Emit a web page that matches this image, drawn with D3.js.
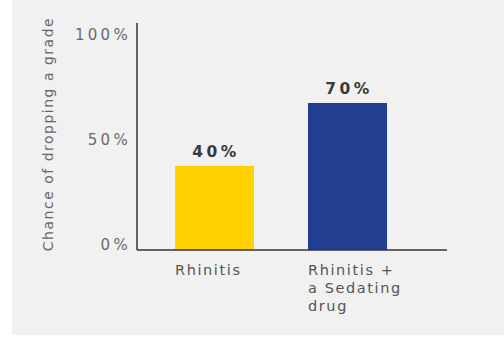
<!DOCTYPE html>
<html>
<head>
<meta charset="utf-8">
<script src="https://cdn.jsdelivr.net/npm/d3@7"></script>
<style>
  html, body { margin: 0; padding: 0; background: #ffffff; }
  svg { display: block; }
  text { font-family: "DejaVu Sans", sans-serif; }
</style>
</head>
<body>
<div id="chart-container"></div>
<script>
// chart data
const categories = ['Rhinitis', 'Rhinitis + a Sedating drug'];
const categoryLines = [['Rhinitis'], ['Rhinitis +', 'a Sedating', 'drug']];
const values = [40, 70];
const barColors = ['#ffd200', '#213e90'];
const tickValues = [0, 50, 100];
const yTitle = 'Chance of dropping a grade';

const width = 504;
const height = 337;

const svg = d3.select('#chart-container').append('svg')
  .attr('width', width)
  .attr('height', height);

// light grey panel
svg.append('rect')
  .attr('x', 12).attr('y', 0)
  .attr('width', width - 12).attr('height', 335)
  .attr('fill', '#f1f1f1');

const x = d3.scaleBand()
  .domain(categories)
  .range([161.7, 400.3])
  .paddingInner(0.406)
  .paddingOuter(0.1);

const y = d3.scaleLinear()
  .domain([0, 100])
  .range([250, 40]);

// bars
svg.append('g').selectAll('rect')
  .data(values).enter()
  .append('rect')
  .attr('x', (d, i) => x(categories[i]))
  .attr('y', d => y(d))
  .attr('width', x.bandwidth())
  .attr('height', d => y(0) - y(d))
  .attr('fill', (d, i) => barColors[i]);

// value labels
svg.append('g').selectAll('text')
  .data(values).enter()
  .append('text')
  .attr('x', (d, i) => x(categories[i]) + x.bandwidth() / 2 + 1.5)
  .attr('y', d => y(d) - 9)
  .attr('text-anchor', 'middle')
  .attr('font-size', 15.5)
  .attr('font-weight', 'bold')
  .attr('letter-spacing', 3.5)
  .attr('fill', '#3a3a3a')
  .text(d => d + '%');

// y axis ticks (labels only, no tick marks)
const yAxis = d3.axisLeft(y)
  .tickValues(tickValues)
  .tickSize(0)
  .tickPadding(6)
  .tickFormat(d => d + '%');

const yG = svg.append('g')
  .attr('transform', 'translate(137,-5)')
  .call(yAxis);
yG.select('.domain').remove();
yG.selectAll('text')
  .attr('font-family', '"DejaVu Sans", sans-serif')
  .attr('font-size', 15)
  .attr('letter-spacing', 3.3)
  .attr('fill', '#6a6a6a');

// axis lines
svg.append('line')
  .attr('x1', 137).attr('x2', 137)
  .attr('y1', 23).attr('y2', y(0))
  .attr('stroke', '#333').attr('stroke-width', 1.5);
svg.append('line')
  .attr('x1', 137).attr('x2', 447)
  .attr('y1', y(0)).attr('y2', y(0))
  .attr('stroke', '#333').attr('stroke-width', 1.5);

// category labels
const cat = svg.append('g').selectAll('text')
  .data(categoryLines).enter()
  .append('text')
  .attr('x', (d, i) => x(categories[i]))
  .attr('y', 275)
  .attr('font-size', 14.5)
  .attr('letter-spacing', 1.6)
  .attr('fill', '#555');
cat.selectAll('tspan')
  .data(d => d).enter()
  .append('tspan')
  .attr('x', function () { return d3.select(this.parentNode).attr('x'); })
  .attr('dy', (d, i) => i === 0 ? 0 : 18)
  .text(d => d);

// y title
svg.append('text')
  .attr('transform', 'translate(53,134) rotate(-90)')
  .attr('text-anchor', 'middle')
  .attr('font-size', 14)
  .attr('letter-spacing', 1.5)
  .attr('fill', '#666')
  .text(yTitle);
</script>
</body>
</html>
